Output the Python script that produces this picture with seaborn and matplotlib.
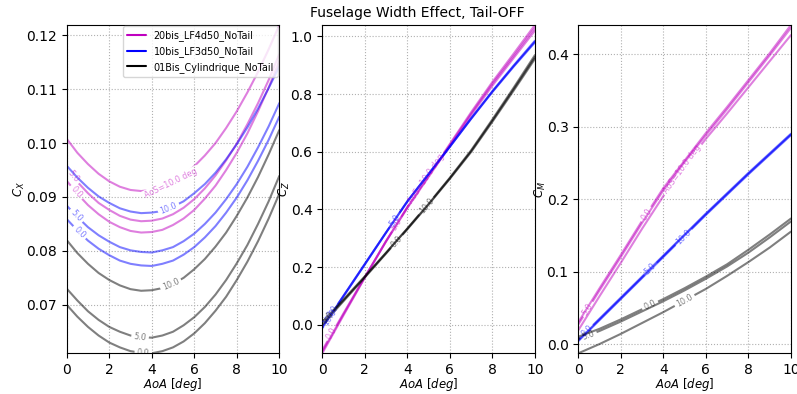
import numpy as np
import matplotlib
matplotlib.use("Agg")
import matplotlib.pyplot as plt
from matplotlib.lines import Line2D
from matplotlib.colors import to_rgba
from matplotlib.path import Path
from matplotlib.transforms import IdentityTransform
import seaborn as sns

# ---------------- data ----------------
AOA_CX = [0, 0.5, 1, 1.5, 2, 2.5, 3, 3.5, 4, 4.5, 5, 5.5, 6, 6.5, 7, 7.5, 8, 8.5, 9, 9.5, 10]
AOA = [0, 1, 2, 3, 4, 5, 6, 7, 8, 9, 10]
AOS = [10.0, 5.0, 0.0]
CONFIGS = ["20bis_LF4d50_NoTail", "10bis_LF3d50_NoTail", "01Bis_Cylindrique_NoTail"]
COLORS = ["m", "b", "k"]

# CX  (AoS = 10, 5, 0), at AOA_CX
cx_m10 = [0.1008, 0.0982, 0.0961, 0.0943, 0.0929, 0.0919, 0.0913, 0.0911, 0.0913, 0.0918, 0.0927,
          0.0940, 0.0957, 0.0977, 0.1000, 0.1028, 0.1059, 0.1094, 0.1132, 0.1174, 0.1219]
cx_m5 = [0.0952, 0.0928, 0.0907, 0.0889, 0.0876, 0.0865, 0.0858, 0.0855, 0.0856, 0.0860, 0.0868,
         0.0880, 0.0896, 0.0916, 0.0940, 0.0968, 0.0999, 0.1035, 0.1074, 0.1117, 0.1165]
cx_m0 = [0.0930, 0.0906, 0.0885, 0.0868, 0.0854, 0.0844, 0.0837, 0.0834, 0.0835, 0.0839, 0.0848,
         0.0860, 0.0876, 0.0897, 0.0921, 0.0950, 0.0982, 0.1018, 0.1059, 0.1103, 0.1152]
cx_b10 = [0.0958, 0.0936, 0.0917, 0.0901, 0.0889, 0.0879, 0.0873, 0.0870, 0.0871, 0.0874, 0.0882,
          0.0892, 0.0907, 0.0924, 0.0945, 0.0970, 0.0998, 0.1029, 0.1064, 0.1102, 0.1142]
cx_b5 = [0.0884, 0.0863, 0.0844, 0.0829, 0.0817, 0.0807, 0.0801, 0.0798, 0.0797, 0.0801, 0.0807,
         0.0818, 0.0832, 0.0850, 0.0871, 0.0896, 0.0924, 0.0956, 0.0992, 0.1031, 0.1074]
cx_b0 = [0.0859, 0.0838, 0.0819, 0.0804, 0.0792, 0.0782, 0.0776, 0.0773, 0.0772, 0.0776, 0.0782,
         0.0793, 0.0807, 0.0825, 0.0846, 0.0871, 0.0899, 0.0931, 0.0967, 0.1006, 0.1049]
cx_k10 = [0.0820, 0.0796, 0.0776, 0.0759, 0.0746, 0.0736, 0.0729, 0.0726, 0.0727, 0.0731, 0.0739,
          0.0750, 0.0766, 0.0785, 0.0808, 0.0834, 0.0865, 0.0899, 0.0937, 0.0979, 0.1024]
cx_k5 = [0.0730, 0.0708, 0.0688, 0.0672, 0.0659, 0.0650, 0.0643, 0.0640, 0.0639, 0.0643, 0.0650,
         0.0662, 0.0677, 0.0696, 0.0719, 0.0746, 0.0777, 0.0811, 0.0850, 0.0892, 0.0939]
cx_k0 = [0.0700, 0.0678, 0.0659, 0.0643, 0.0630, 0.0621, 0.0614, 0.0611, 0.0610, 0.0614, 0.0621,
         0.0632, 0.0647, 0.0666, 0.0689, 0.0715, 0.0746, 0.0780, 0.0818, 0.0860, 0.0906]

# CZ, at AOA
cz_m10 = [-0.099, 0.033, 0.163, 0.290, 0.408, 0.518, 0.627, 0.737, 0.842, 0.940, 1.0395]
cz_m5 = [-0.093, 0.037, 0.165, 0.290, 0.407, 0.516, 0.624, 0.732, 0.836, 0.932, 1.030]
cz_m0 = [-0.088, 0.040, 0.166, 0.289, 0.405, 0.513, 0.620, 0.727, 0.829, 0.925, 1.020]
cz_b10 = [-0.012, 0.099, 0.209, 0.320, 0.428, 0.523, 0.618, 0.716, 0.810, 0.899, 0.985]
cz_b5 = [-0.010, 0.100, 0.210, 0.320, 0.428, 0.523, 0.618, 0.715, 0.809, 0.897, 0.982]
cz_b0 = [-0.008, 0.101, 0.211, 0.320, 0.427, 0.522, 0.617, 0.714, 0.807, 0.895, 0.979]
cz_k10 = [0.010, 0.088, 0.168, 0.250, 0.334, 0.420, 0.510, 0.605, 0.712, 0.822, 0.935]
cz_k5 = [0.005, 0.085, 0.166, 0.249, 0.333, 0.419, 0.508, 0.602, 0.708, 0.817, 0.928]
cz_k0 = [0.000, 0.082, 0.164, 0.247, 0.331, 0.417, 0.506, 0.599, 0.704, 0.812, 0.922]

# CM, at AOA
cm_m10 = [0.019, 0.066, 0.112, 0.159, 0.204, 0.245, 0.283, 0.318, 0.354, 0.390, 0.426]
cm_m5 = [0.027, 0.074, 0.120, 0.167, 0.212, 0.251, 0.288, 0.324, 0.361, 0.398, 0.436]
cm_m0 = [0.030, 0.077, 0.123, 0.170, 0.215, 0.253, 0.291, 0.327, 0.364, 0.401, 0.440]
cm_b10 = [0.004, 0.033, 0.062, 0.091, 0.120, 0.149, 0.178, 0.206, 0.234, 0.261, 0.288]
cm_b5 = [0.005, 0.034, 0.063, 0.092, 0.121, 0.150, 0.179, 0.207, 0.235, 0.262, 0.289]
cm_b0 = [0.006, 0.035, 0.064, 0.093, 0.122, 0.151, 0.180, 0.208, 0.236, 0.263, 0.290]
cm_k10 = [-0.0128, 0.000, 0.014, 0.029, 0.044, 0.060, 0.076, 0.094, 0.113, 0.133, 0.155]
cm_k5 = [0.007, 0.018, 0.031, 0.045, 0.059, 0.074, 0.090, 0.107, 0.126, 0.147, 0.169]
cm_k0 = [0.010, 0.021, 0.034, 0.048, 0.062, 0.077, 0.093, 0.110, 0.130, 0.151, 0.173]

PANELS = [
    ("$C_X$", AOA_CX, [[cx_m10, cx_m5, cx_m0], [cx_b10, cx_b5, cx_b0], [cx_k10, cx_k5, cx_k0]]),
    ("$C_Z$", AOA, [[cz_m10, cz_m5, cz_m0], [cz_b10, cz_b5, cz_b0], [cz_k10, cz_k5, cz_k0]]),
    ("$C_M$", AOA, [[cm_m10, cm_m5, cm_m0], [cm_b10, cm_b5, cm_b0], [cm_k10, cm_k5, cm_k0]]),
]
# AoA at which each inline AoS label sits (per panel, per config, per AoS)
LABEL_AOA = [
    [[4.9, 0.3, 0.45], [4.8, 0.45, 0.6], [4.9, 3.45, 3.6]],
    [[4.9, 3.5, 0.45], [0.35, 3.4, 0.5], [4.9, 0.25, 3.5]],
    [[4.9, 0.45, 3.2], [4.95, 3.4, 0.4], [5.0, 0.47, 3.38]],
]
TITLE = "Fuselage Width Effect, Tail-OFF"
XLABEL = r"$AoA\ [deg]$"

# ---------------- figure ----------------
sns.set_style("ticks")
plt.rcParams["font.family"] = ["DejaVu Sans"]
for k in ["axes.edgecolor", "xtick.color", "ytick.color", "axes.labelcolor", "text.color"]:
    plt.rcParams[k] = "black"

fig = plt.figure(figsize=(7.97, 3.94), dpi=100)
renderer = fig.canvas.get_renderer()
W, H = 797.0, 394.0
lefts = [66.7, 322.3, 578.3]
axw, top_px, bot_px = 212.6, 25.0, 353.3

for pi, (ylab, xs, groups) in enumerate(PANELS):
    ax = fig.add_axes([lefts[pi] / W, (H - bot_px) / H, axw / W, (bot_px - top_px) / H])
    ax.set_axisbelow(True)
    ax.grid(True, linestyle=":", color="#b0b0b0", linewidth=0.8)
    z = 2.0
    pending = []
    allv = []
    for ci, group in enumerate(groups):
        for ai, yv in enumerate(group):
            sns.lineplot(x=xs, y=yv, ax=ax, color=COLORS[ci], alpha=0.5,
                         linewidth=1.5, zorder=z, legend=False)
            line = ax.lines[-1]
            if ci == 0 and ai == 0:
                txt = "AoS=%.1f deg" % AOS[ai]
            else:
                txt = "%.1f" % AOS[ai]
            pending.append((line, yv, LABEL_AOA[pi][ci][ai], txt, COLORS[ci]))
            allv.extend(yv)
            z += 0.01
    ax.set_xlim(0, 10)
    ax.set_ylim(min(allv), max(allv))
    ax.set_xticks([0, 2, 4, 6, 8, 10])
    ax.set_xlabel(XLABEL, fontsize=8.33, labelpad=-1)
    ax.set_ylabel(ylab, fontsize=8.33, labelpad=-1)
    ax.tick_params(labelsize=10, length=3.5, width=0.8, direction="out")
    for s in ax.spines.values():
        s.set_linewidth(0.8)
        s.set_visible(True)

    # inline labels: text on top, own line broken under it (clip path with a hole)
    for line, yv, a, txt, col in pending:
        y0 = np.interp(a, xs, yv)
        p1 = ax.transData.transform((a - 0.15, np.interp(a - 0.15, xs, yv)))
        p2 = ax.transData.transform((a + 0.15, np.interp(a + 0.15, xs, yv)))
        ang = np.arctan2(p2[1] - p1[1], p2[0] - p1[0])
        t = ax.text(a, y0, txt, rotation=0, ha="center", va="center", fontsize=5.8,
                    color=to_rgba(col, 0.5), zorder=10, clip_on=True)
        bb = t.get_window_extent(renderer)
        t.set_rotation(np.degrees(ang))
        t.set_rotation_mode("anchor")
        cxy = ax.transData.transform((a, y0))
        hw, hh = bb.width / 2 + 2.5, bb.height / 2 + 1.0
        u = np.array([np.cos(ang), np.sin(ang)])
        v = np.array([-np.sin(ang), np.cos(ang)])
        inner = [cxy - hw * u - hh * v, cxy - hw * u + hh * v,
                 cxy + hw * u + hh * v, cxy + hw * u - hh * v]  # clockwise
        outer = [(-10, -10), (W + 10, -10), (W + 10, H + 10), (-10, H + 10)]  # ccw
        verts = outer + [outer[0]] + [tuple(p) for p in inner] + [tuple(inner[0])]
        codes = ([Path.MOVETO] + [Path.LINETO] * 3 + [Path.CLOSEPOLY]) * 2
        line.set_clip_path(Path(verts, codes), IdentityTransform())

    if pi == 0:
        handles = [Line2D([], [], color=c, lw=1.5) for c in COLORS]
        ax.legend(handles, CONFIGS, loc="upper right", fontsize=6.94,
                  borderaxespad=0.15, framealpha=0.8)

fig.text(417 / W, 1 - 12.5 / H, TITLE, ha="center", va="center", fontsize=10)
fig.savefig("out.png", dpi=100)
